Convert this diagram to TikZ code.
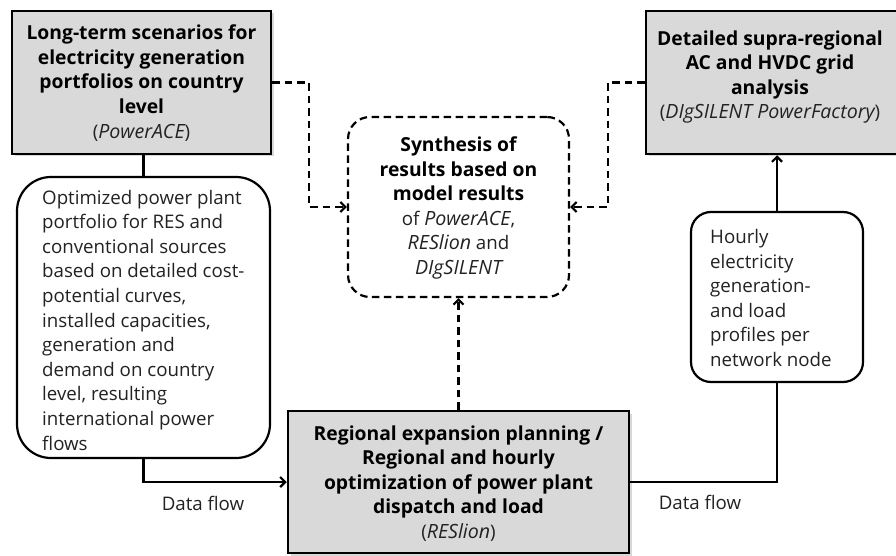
\documentclass[tikz,border=0pt]{standalone}
\usepackage{fontspec}
\setmainfont{Open Sans}
\usetikzlibrary{arrows.meta,shadows}
\definecolor{boxgray}{HTML}{D9D9D9}
\definecolor{txt}{HTML}{222222}
\newcommand{\bt}[1]{{\fontsize{19.3}{24.6}\selectfont\bfseries #1}}
\newcommand{\itx}[1]{{\fontsize{19.6}{24.6}\selectfont\itshape #1}}
\begin{document}
\begin{tikzpicture}[x=1pt,y=-1pt,
  graybox/.style={draw=black, line width=2.5pt, fill=boxgray, inner sep=0pt,
    drop shadow={shadow xshift=2.5pt,shadow yshift=-2.5pt,fill=black!30}},
  roundbox/.style={draw=black, line width=2.2pt, fill=white, inner sep=0pt},
  dashbox/.style={draw=black, line width=2.2pt, fill=white, inner sep=0pt, align=center,
    dash pattern=on 7.5pt off 4.5pt, rounded corners=22pt},
  conn/.style={line width=2.2pt, -{Straight Barb[length=5pt,width=10pt,line width=2.2pt]}},
  dconn/.style={conn, dash pattern=on 7.5pt off 5pt},
  plain/.style={line width=2.2pt},
  lbl/.style={font=\fontsize{18.7}{24.6}\selectfont, text=txt, inner sep=0pt}
]
\useasboundingbox (0,0) rectangle (896,556);

\node[graybox, minimum width=259pt, minimum height=143pt] (A) at (141.5,82.5) {};
\node[lbl, align=center, text=black] (Atext) at (141.5,83)
  {\bt{Long-term scenarios for}\\\bt{electricity generation}\\\bt{portfolios on country}\\\bt{level}\\{\color{txt}(\itx{PowerACE})}};
\node[graybox, minimum width=259pt, minimum height=143pt] (B) at (775.5,82.5) {};
\node[lbl, align=center, text=black] (Btext) at (770,77)
  {\bt{Detailed supra-regional}\\\bt{AC and HVDC grid}\\\bt{analysis}\\{\color{txt}(\itx{DIgSILENT PowerFactory})}};
\node[dashbox, minimum width=221pt, minimum height=180pt] (S) at (458.5,207) {};
\node[lbl, align=center, text=black] (Stext) at (458.5,208)
  {\bt{Synthesis of}\\\bt{results based on}\\\bt{model results}\\{\color{txt}of \itx{PowerACE},}\\{\color{txt}\itx{RESlion} and}\\{\color{txt}\itx{DIgSILENT}}};
\node[graybox, minimum width=341pt, minimum height=142pt] (R) at (458.5,482) {};
\node[lbl, align=center, text=black] (Rtext) at (458.5,483.5)
  {\bt{Regional expansion planning /}\\\bt{Regional and hourly}\\\bt{optimization of power plant}\\\bt{dispatch and load}\\{\color{txt}(\itx{RESlion})}};
\node[roundbox, rounded corners=34pt, minimum width=253pt, minimum height=281pt] (L) at (143.5,317.5) {};
\node[lbl, anchor=west, align=left] (Ltext) at (42,320)
  {Optimized power plant\\portfolio for RES and\\conventional sources\\based on detailed cost-\\potential curves,\\installed capacities,\\generation and\\demand on country\\level, resulting\\international power\\flows};
\node[roundbox, rounded corners=20pt, minimum width=172pt, minimum height=170pt] (H) at (777,297) {};
\node[lbl, anchor=west, align=left] (Htext) at (710,298)
  {Hourly\\electricity\\generation-\\and load\\profiles per\\network node};

\coordinate (p1) at (309,82.5);
\coordinate (p2) at (608,82.5);
\draw[dconn] (A.east) -- (p1) |- (S.west);
\draw[dconn] (B.west) -- (p2) |- (S.east);
\draw[dconn] (R.north) -- (S.south);
\draw[plain] (A.south -| L.north) -- (L.north);
\draw[conn] (L.south) |- (R.west);
\draw[plain] (R.east) -| (H.south);
\draw[conn] (H.north) -- (H.north |- B.south);

\node[lbl] (df1) at (203,503) {Data flow};
\node[lbl] (df2) at (700,502) {Data flow};
\end{tikzpicture}
\end{document}
